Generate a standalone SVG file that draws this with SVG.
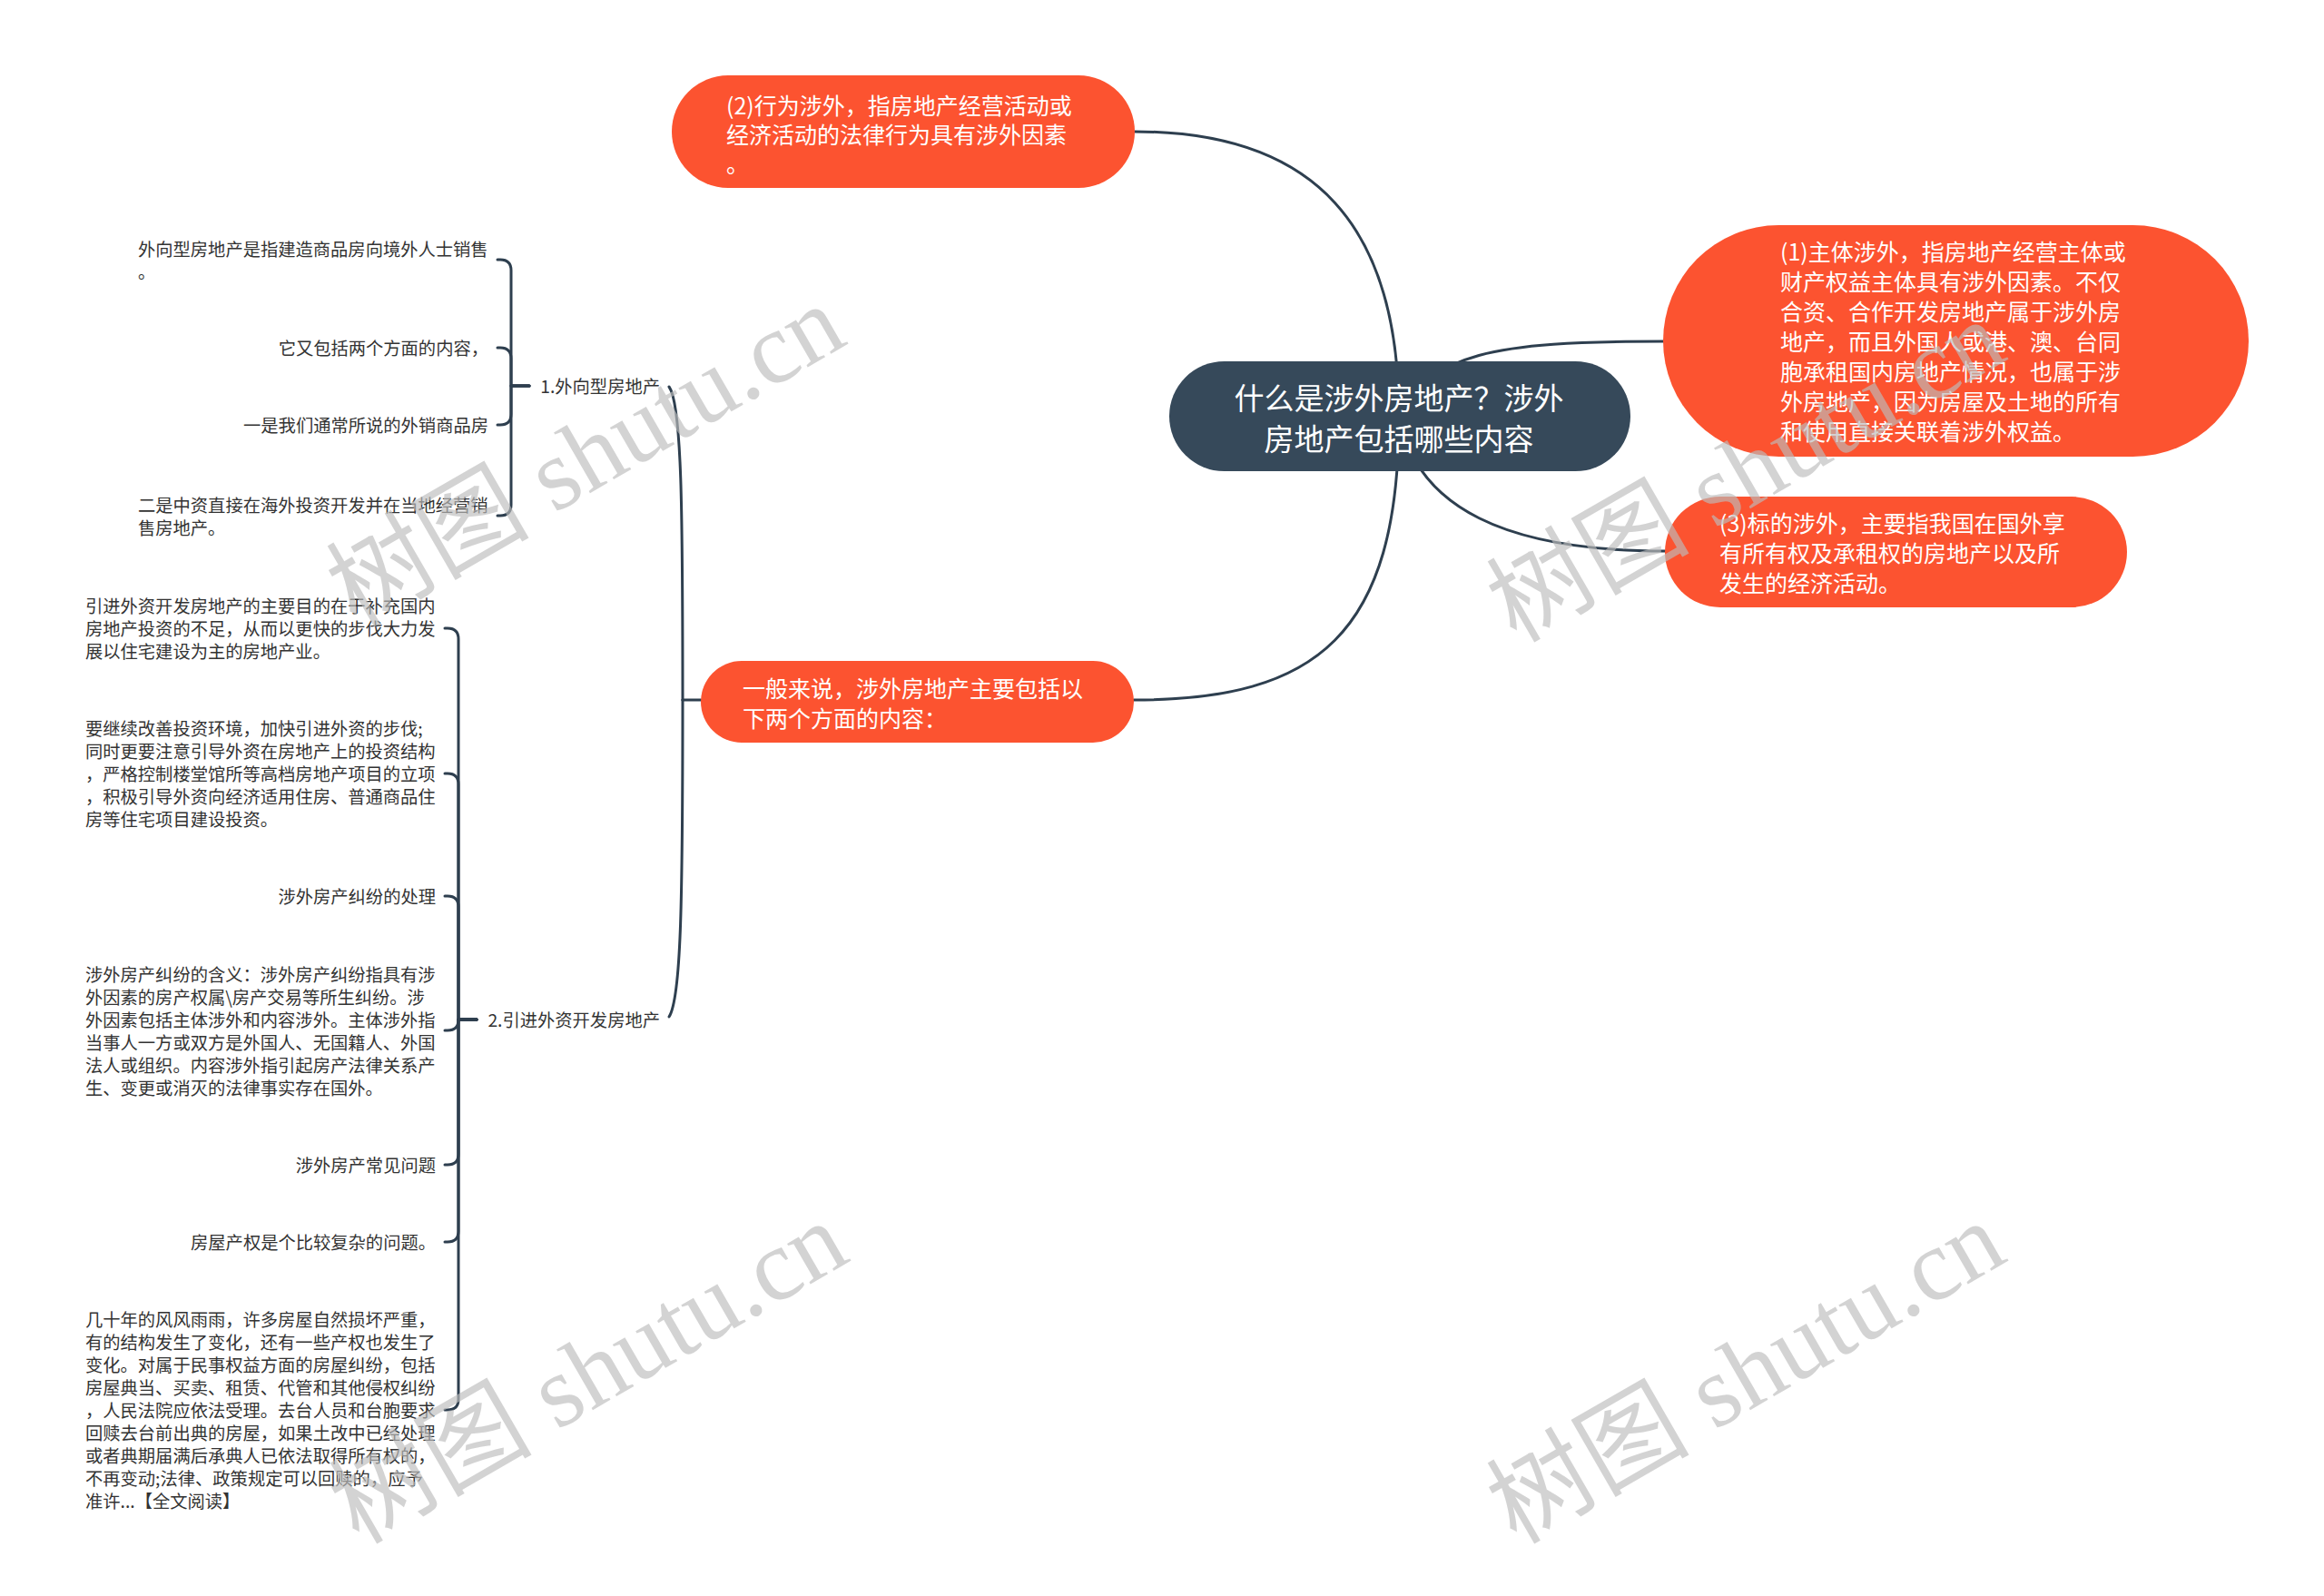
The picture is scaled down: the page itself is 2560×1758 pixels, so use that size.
<svg xmlns="http://www.w3.org/2000/svg" width="2560" height="1758" viewBox="0 0 2560 1758">
<style>
.ln{fill:none;stroke:#2e3f4f;stroke-width:3;stroke-linecap:round;stroke-linejoin:round}
.leaf{font-family:"Noto Sans CJK SC","Noto Sans",sans-serif;font-size:19.3px;fill:#333}
.nt{font-family:"Noto Sans CJK SC","Noto Sans",sans-serif;font-size:25px;fill:#fff}
.rt{font-family:"Noto Sans CJK SC","Noto Sans",sans-serif;font-size:33px;fill:#fff}
.or{fill:#fc5330}
.wm{font-family:"Liberation Serif","Noto Sans CJK SC",serif;font-size:112px;fill:#bdbdbd;opacity:0.65}
</style>
<rect width="2560" height="1758" fill="#fff"/>
<g id="connectors">
<path class="ln" d="M1541 458 C1541 250 1450 145 1250 145"/>
<path class="ln" d="M1541 458 C1580 390 1640 376 1832 376"/>
<path class="ln" d="M1541 458 C1560 560 1660 607 1834 607"/>
<path class="ln" d="M1541 458 C1541 700 1450 771 1249 771"/>
<path class="ln" d="M772 771 H752"/>
<path class="ln" d="M752 771 C752 560 751 445 737 426"/>
<path class="ln" d="M752 771 C752 1000 750 1100 737 1120"/>
<path class="ln" d="M583 425 H563 V298 Q563 286 551 286 H548"/>
<path class="ln" d="M583 425 H563 V395 Q563 383 551 383 H548"/>
<path class="ln" d="M583 425 H563 V456 Q563 468 551 468 H548"/>
<path class="ln" d="M583 425 H563 V556 Q563 568 551 568 H548"/>
<path class="ln" d="M525 1123 H505 V704 Q505 692 493 692 H490"/>
<path class="ln" d="M525 1123 H505 V864 Q505 852 493 852 H490"/>
<path class="ln" d="M525 1123 H505 V999 Q505 987 493 987 H490"/>
<path class="ln" d="M525 1123 H505 Q505 1135 493 1135 H490"/>
<path class="ln" d="M525 1123 H505 V1271 Q505 1283 493 1283 H490"/>
<path class="ln" d="M525 1123 H505 V1356 Q505 1368 493 1368 H490"/>
<path class="ln" d="M525 1123 H505 V1541 Q505 1553 493 1553 H490"/>
</g>
<g id="root">
<rect x="1288" y="398" width="508" height="121" rx="60.5" fill="#36495a"/>
<text class="rt" text-anchor="middle" dominant-baseline="central"><tspan x="1541" y="437">什么是涉外房地产？涉外</tspan><tspan x="1541" y="482">房地产包括哪些内容</tspan></text>
</g>
<g id="n2">
<rect class="or" x="740" y="83" width="510" height="124" rx="62"/>
<text class="nt" dominant-baseline="central"><tspan x="800" y="115">(2)行为涉外，指房地产经营活动或</tspan><tspan x="800" y="147">经济活动的法律行为具有涉外因素</tspan><tspan x="800" y="179">。</tspan></text>
</g>
<g id="n1">
<rect class="or" x="1832" y="248" width="645" height="255" rx="127.5"/>
<text class="nt" dominant-baseline="central"><tspan x="1961" y="276">(1)主体涉外，指房地产经营主体或</tspan><tspan x="1961" y="309">财产权益主体具有涉外因素。不仅</tspan><tspan x="1961" y="342">合资、合作开发房地产属于涉外房</tspan><tspan x="1961" y="375">地产，而且外国人或港、澳、台同</tspan><tspan x="1961" y="408">胞承租国内房地产情况，也属于涉</tspan><tspan x="1961" y="441">外房地产，因为房屋及土地的所有</tspan><tspan x="1961" y="474">和使用直接关联着涉外权益。</tspan></text>
</g>
<g id="n3">
<rect class="or" x="1834" y="547" width="509" height="122" rx="61"/>
<text class="nt" dominant-baseline="central"><tspan x="1894" y="575">(3)标的涉外，主要指我国在国外享</tspan><tspan x="1894" y="608">有所有权及承租权的房地产以及所</tspan><tspan x="1894" y="641">发生的经济活动。</tspan></text>
</g>
<g id="n4">
<rect class="or" x="772" y="728" width="477" height="90" rx="45"/>
<text class="nt" dominant-baseline="central"><tspan x="818" y="757">一般来说，涉外房地产主要包括以</tspan><tspan x="818" y="790">下两个方面的内容：</tspan></text>
</g>
<g id="label1"><text class="leaf" x="727" y="425" text-anchor="end" dominant-baseline="central">1.外向型房地产</text></g>
<g id="label2"><text class="leaf" x="727" y="1123" text-anchor="end" dominant-baseline="central">2.引进外资开发房地产</text></g>
<g id="l1a"><text class="leaf" dominant-baseline="central"><tspan x="152" y="273.5">外向型房地产是指建造商品房向境外人士销售</tspan><tspan x="152" y="298.5">。</tspan></text></g>
<g id="l1b"><text class="leaf" x="538" y="383" text-anchor="end" dominant-baseline="central">它又包括两个方面的内容，</text></g>
<g id="l1c"><text class="leaf" x="538" y="468" text-anchor="end" dominant-baseline="central">一是我们通常所说的外销商品房</text></g>
<g id="l1d"><text class="leaf" dominant-baseline="central"><tspan x="152" y="555.5">二是中资直接在海外投资开发并在当地经营销</tspan><tspan x="152" y="580.5">售房地产。</tspan></text></g>
<g id="l2a"><text class="leaf" dominant-baseline="central"><tspan x="94" y="667">引进外资开发房地产的主要目的在于补充国内</tspan><tspan x="94" y="692">房地产投资的不足，从而以更快的步伐大力发</tspan><tspan x="94" y="717">展以住宅建设为主的房地产业。</tspan></text></g>
<g id="l2b"><text class="leaf" dominant-baseline="central"><tspan x="94" y="802">要继续改善投资环境，加快引进外资的步伐;</tspan><tspan x="94" y="827">同时更要注意引导外资在房地产上的投资结构</tspan><tspan x="94" y="852">，严格控制楼堂馆所等高档房地产项目的立项</tspan><tspan x="94" y="877">，积极引导外资向经济适用住房、普通商品住</tspan><tspan x="94" y="902">房等住宅项目建设投资。</tspan></text></g>
<g id="l2c"><text class="leaf" x="480" y="987" text-anchor="end" dominant-baseline="central">涉外房产纠纷的处理</text></g>
<g id="l2d"><text class="leaf" dominant-baseline="central"><tspan x="94" y="1073">涉外房产纠纷的含义：涉外房产纠纷指具有涉</tspan><tspan x="94" y="1098">外因素的房产权属\房产交易等所生纠纷。涉</tspan><tspan x="94" y="1123">外因素包括主体涉外和内容涉外。主体涉外指</tspan><tspan x="94" y="1148">当事人一方或双方是外国人、无国籍人、外国</tspan><tspan x="94" y="1173">法人或组织。内容涉外指引起房产法律关系产</tspan><tspan x="94" y="1198">生、变更或消灭的法律事实存在国外。</tspan></text></g>
<g id="l2e"><text class="leaf" x="480" y="1283" text-anchor="end" dominant-baseline="central">涉外房产常见问题</text></g>
<g id="l2f"><text class="leaf" x="480" y="1368" text-anchor="end" dominant-baseline="central">房屋产权是个比较复杂的问题。</text></g>
<g id="l2g"><text class="leaf" dominant-baseline="central"><tspan x="94" y="1453">几十年的风风雨雨，许多房屋自然损坏严重，</tspan><tspan x="94" y="1478">有的结构发生了变化，还有一些产权也发生了</tspan><tspan x="94" y="1503">变化。对属于民事权益方面的房屋纠纷，包括</tspan><tspan x="94" y="1528">房屋典当、买卖、租赁、代管和其他侵权纠纷</tspan><tspan x="94" y="1553">，人民法院应依法受理。去台人员和台胞要求</tspan><tspan x="94" y="1578">回赎去台前出典的房屋，如果土改中已经处理</tspan><tspan x="94" y="1603">或者典期届满后承典人已依法取得所有权的，</tspan><tspan x="94" y="1628">不再变动;法律、政策规定可以回赎的，应予</tspan><tspan x="94" y="1653">准许...【全文阅读】</tspan></text></g>
<g id="watermarks">
<text class="wm" transform="translate(645 502) rotate(-30)" text-anchor="middle" dominant-baseline="central">树图 shutu.cn</text>
<text class="wm" transform="translate(1923 519) rotate(-30)" text-anchor="middle" dominant-baseline="central">树图 shutu.cn</text>
<text class="wm" transform="translate(648 1512) rotate(-30)" text-anchor="middle" dominant-baseline="central">树图 shutu.cn</text>
<text class="wm" transform="translate(1923 1512) rotate(-30)" text-anchor="middle" dominant-baseline="central">树图 shutu.cn</text>
</g>
</svg>
